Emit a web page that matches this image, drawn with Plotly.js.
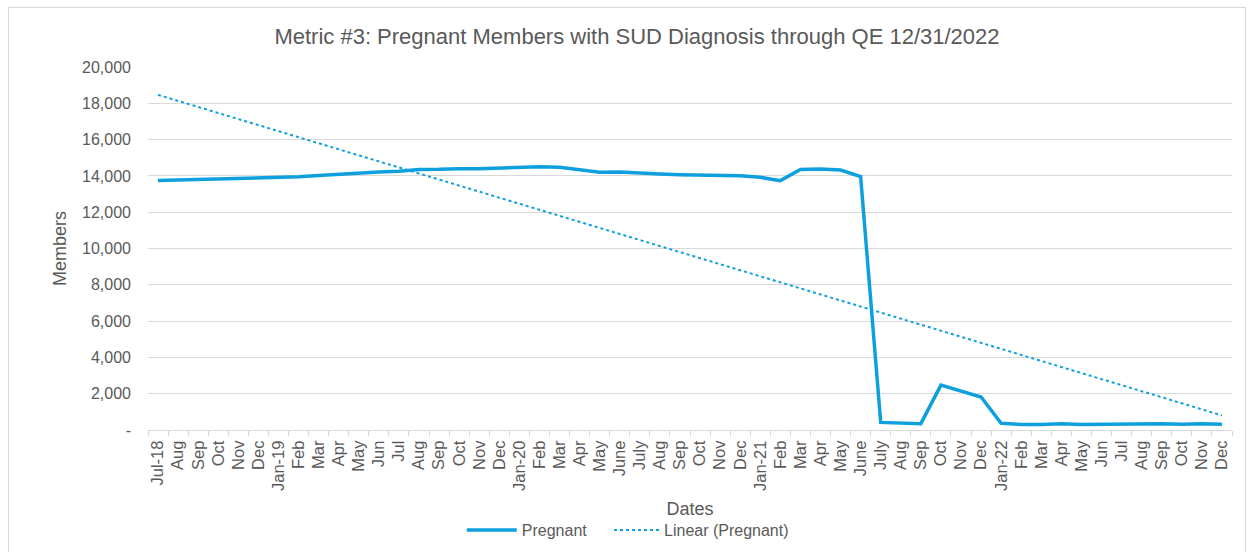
<!DOCTYPE html>
<html>
<head>
<meta charset="utf-8">
<script src="https://cdn.plot.ly/plotly-3.0.1.min.js"></script>
<style>
html,body{margin:0;padding:0;background:#fff;overflow:hidden;}
#chart{position:absolute;left:0;top:0;width:1249px;height:552px;}
#frame{position:absolute;left:8px;top:7px;width:1236px;height:550px;border:1px solid #d9d9d9;pointer-events:none;}
</style>
</head>
<body>
<div id="chart"></div>
<div id="frame"></div>
<script>
const categories = ["Jul-18","Aug","Sep","Oct","Nov","Dec","Jan-19","Feb","Mar","Apr","May","Jun","Jul","Aug","Sep","Oct","Nov","Dec",
  "Jan-20","Feb","Mar","Apr","May","June","July","Aug","Sep","Oct","Nov","Dec",
  "Jan-21","Feb","Mar","Apr","May","June","July","Aug","Sep","Oct","Nov","Dec",
  "Jan-22","Feb","Mar","Apr","May","Jun","Jul","Aug","Sep","Oct","Nov","Dec"];
const pregnant = [13750,13780,13800,13850,13880,13890,13910,13950,14020,14100,14170,14220,14260,14350,14360,14400,14390,14430,
  14450,14510,14470,14330,14200,14220,14150,14110,14070,14060,14030,14010,
  13920,13740,14350,14380,14320,13960,420,400,350,2470,2120,1820,
  370,300,300,340,300,310,320,350,350,310,340,320];
const yTickVals = [0,2000,4000,6000,8000,10000,12000,14000,16000,18000,20000];
const yTickText = ["-","2,000","4,000","6,000","8,000","10,000","12,000","14,000","16,000","18,000","20,000"];

const idx = categories.map((_, i) => i);
// Excel-style linear trendline (least squares on the series)
const n = pregnant.length;
const mx = idx.reduce((a,b)=>a+b,0)/n;
const my = pregnant.reduce((a,b)=>a+b,0)/n;
let sxy = 0, sxx = 0;
for (let i=0;i<n;i++){ sxy += (idx[i]-mx)*(pregnant[i]-my); sxx += (idx[i]-mx)**2; }
const slope = sxy/sxx, intercept = my - slope*mx;
const trend = idx.map(i => intercept + slope*i);

const font = "Liberation Sans, Arial, sans-serif";
const grey = "#595959";
const blue = "#0EA0DE";

const traces = [
  {x: idx, y: pregnant, type: "scatter", mode: "lines", name: "Pregnant",
   line: {color: blue, width: 3.5}, legend: "legend"},
  {x: idx, y: trend, type: "scatter", mode: "lines", name: "Linear (Pregnant)",
   line: {color: blue, width: 2, dash: "dot"}, legend: "legend2"}
];

const minorVals = [];
for (let i=0;i<=n;i++) minorVals.push(i-0.5);

const legendFont = {family: font, size: 16, color: grey};

const layout = {
  width: 1249, height: 552,
  margin: {l: 148, r: 17, t: 67, b: 122, autoexpand: false},
  paper_bgcolor: "rgba(0,0,0,0)", plot_bgcolor: "#fff",
  font: {family: font, color: grey, size: 16},
  title: {text: "Metric #3: Pregnant Members with SUD Diagnosis through QE 12/31/2022",
          font: {family: font, size: 22, color: grey}, x: 0.51, xanchor: "center",
          yref: "container", y: 0.935, yanchor: "middle"},
  xaxis: {
    range: [-0.5, n-0.5], tickmode: "array", tickvals: idx, ticktext: categories,
    tickangle: -90, ticks: "", showgrid: false, zeroline: false, automargin: false,
    showline: true, linecolor: "#d9d9d9", linewidth: 1, ticklabelstandoff: 3,
    tickfont: {family: font, size: 16.5, color: grey},
    minor: {tickmode: "array", tickvals: minorVals, ticks: "outside", ticklen: 5, tickcolor: "#d9d9d9", showgrid: false},
    title: {text: "Dates", font: {family: font, size: 18, color: grey}, standoff: 12}
  },
  yaxis: {
    range: [0, 20000], tickmode: "array", tickvals: yTickVals, ticktext: yTickText,
    showgrid: true, gridcolor: "#d9d9d9", gridwidth: 1, zeroline: false, automargin: false,
    showline: false, ticks: "", ticklen: 0, ticklabelstandoff: 16,
    tickfont: {family: font, size: 16, color: grey},
    title: {text: "Members", font: {family: font, size: 18, color: grey}, standoff: 10}
  },
  showlegend: true,
  legend: {orientation: "h", x: 0.2895, xanchor: "left", y: -0.2755, yanchor: "middle",
           itemwidth: 50, font: legendFont, bgcolor: "rgba(0,0,0,0)"},
  legend2: {orientation: "h", x: 0.4253, xanchor: "left", y: -0.2755, yanchor: "middle",
           itemwidth: 45, font: legendFont, bgcolor: "rgba(0,0,0,0)"}
};

Plotly.newPlot("chart", traces, layout, {displayModeBar: false, staticPlot: true});
</script>
</body>
</html>
